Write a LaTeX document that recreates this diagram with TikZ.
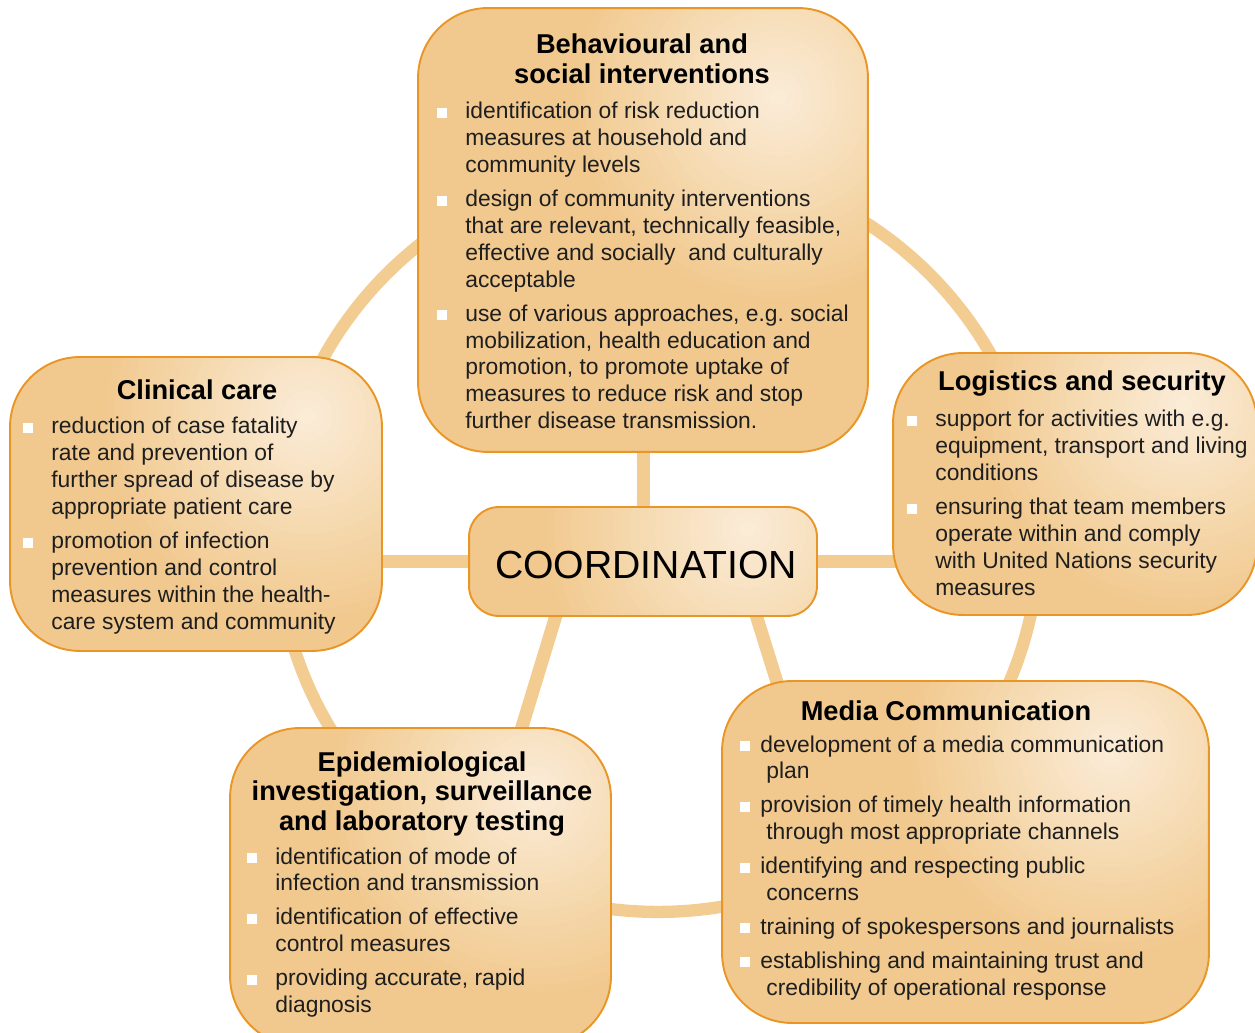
\documentclass[tikz,border=0pt]{standalone}
\usepackage{fontspec}
\setmainfont{Liberation Sans}
\usetikzlibrary{calc,backgrounds}

\definecolor{boxbase}{RGB}{241,201,142}
\definecolor{boxlite}{RGB}{251,237,217}
\definecolor{boxline}{RGB}{234,150,38}
\definecolor{ringcol}{RGB}{243,204,146}
\definecolor{bodytext}{RGB}{30,30,30}

\newlength{\bltsep}
\setlength{\bltsep}{0.36cm}
\newcommand{\blt}{\leavevmode\llap{\textcolor{white}{\rule[0.02cm]{0.2cm}{0.2cm}}\hspace{\bltsep}}}
\newcommand{\itemgap}{\par\vspace{0.14cm}}

\tikzset{
  panel/.style={draw=boxline, line width=1.1pt, rounded corners=1.4cm, fill=boxbase, inner sep=0pt,
    path picture={
      \coordinate (glowc) at ($(path picture bounding box.south west)!0.8!(path picture bounding box.north east)$);
      \foreach \k [evaluate=\k as \mix using int(4*\k)] in {0,...,24}
        \fill[boxlite!\mix!boxbase] (glowc) circle ({4.2cm*(1-\k/25)});
    }},
  head/.style={inner sep=0pt, anchor=base, font=\fontsize{15.5}{16.8}\selectfont\bfseries},
  body/.style={inner sep=0pt, anchor=base west, text=bodytext, font=\fontsize{13}{15.3}\selectfont},
  link/.style={ringcol, line width=7.4pt, shorten <=-6pt, shorten >=-6pt},
}

\begin{document}
\begin{tikzpicture}[x=0.02cm, y=-0.02cm]
  \useasboundingbox (0,0) rectangle (1255,1033);

  % Panels
  \node[panel, minimum width=9cm, minimum height=8.88cm] (beh) at (643,230) {};
  \node[panel, minimum width=7.44cm, minimum height=5.88cm] (clin) at (196,504) {};
  \node[panel, minimum width=7.28cm, minimum height=5.24cm] (logi) at (1075,484) {};
  \node[panel, rounded corners=0.6cm, minimum width=6.96cm, minimum height=2.18cm] (coord) at (643,561.5) {};
  \node[panel, minimum width=9.74cm, minimum height=6.84cm] (media) at (965.5,852) {};
  \node[panel, minimum width=7.62cm, minimum height=6.36cm] (epi) at (420.5,887) {};

  % Ring and spokes
  \begin{scope}[on background layer]
    \draw[ringcol, line width=7pt] (658,537) ellipse [x radius=7.62cm, y radius=7.5cm];
    \draw[link] (coord.north) -- (beh.south);
    \draw[link] (coord.west) -- (coord.west -| clin.east);
    \draw[link] (coord.east) -- (coord.east -| logi.west);
    \draw[link] ($(coord.south west)!0.25!(coord.south east)$) -- ($(epi.north west)!0.765!(epi.north east)$);
    \draw[link] ($(coord.south west)!0.825!(coord.south east)$) -- ($(media.north west)!0.113!(media.north east)$);
  \end{scope}

  % Centre
  \node[anchor=base, inner sep=0pt, font=\fontsize{22.3}{26}\selectfont] (coord-t) at (646,579) {COORDINATION};

  % Behavioural and social interventions
  \node[head] (beh-t) at (642,53.5) {\parbox[t]{8.5cm}{\centering Behavioural and\\ social interventions}};
  \node[body] (beh-l) at (465,119) {\parbox[t]{8cm}{%
    \blt identification of risk reduction\\ measures at household and\\ community levels\itemgap
    \blt design of community interventions\\ that are relevant, technically feasible,\\ effective and socially\ \ and culturally\\ acceptable\itemgap
    \blt use of various approaches, e.g.\ social\\ mobilization, health education and\\ promotion, to promote uptake of\\ measures to reduce risk and stop\\ further disease transmission.}};

  % Clinical care
  \node[head] (clin-t) at (197,399.5) {Clinical care};
  \node[body] (clin-l) at (51,434) {\parbox[t]{7cm}{%
    \blt reduction of case fatality\\ rate and prevention of\\ further spread of disease by\\ appropriate patient care\itemgap
    \blt promotion of infection\\ prevention and control\\ measures within the health-\\ care system and community}};

  % Logistics and security
  \node[head] (logi-t) at (1082,390.5) {Logistics and security};
  \node[body] (logi-l) at (935,427) {\parbox[t]{7cm}{%
    \blt support for activities with e.g.\\ equipment, transport and living\\ conditions\itemgap
    \blt ensuring that team members\\ operate within and comply\\ with United Nations security\\ measures}};

  % Media communication
  \node[head] (media-t) at (946,721) {Media Communication};
  \node[body] (media-l) at (760,752) {\parbox[t]{9cm}{\setlength{\bltsep}{0.2cm}%
    \blt development of a media communication\\\hspace*{0.12cm}plan\itemgap
    \blt provision of timely health information\\\hspace*{0.12cm}through most appropriate channels\itemgap
    \blt identifying and respecting public\\\hspace*{0.12cm}concerns\itemgap
    \blt training of spokespersons and journalists\itemgap
    \blt establishing and maintaining trust and\\\hspace*{0.12cm}credibility of operational response}};

  % Epidemiological investigation
  \node[head] (epi-t) at (422,771) {\parbox[t]{8cm}{\centering Epidemiological\\ investigation, surveillance\\ and laboratory testing}};
  \node[body] (epi-l) at (275,864) {\parbox[t]{7cm}{%
    \blt identification of mode of\\ infection and transmission\itemgap
    \blt identification of effective\\ control measures\itemgap
    \blt providing accurate, rapid\\ diagnosis}};
\end{tikzpicture}
\end{document}
